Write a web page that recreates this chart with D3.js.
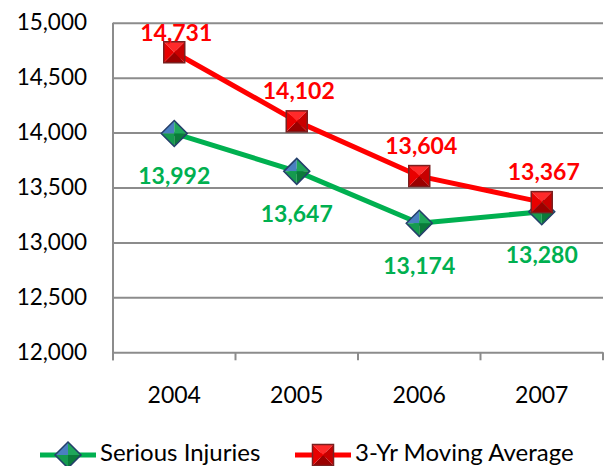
<!DOCTYPE html>
<html>
<head>
<meta charset="utf-8">
<script src="https://cdn.jsdelivr.net/npm/d3@7"></script>
<style>
  body { margin: 0; background: #fff; }
  svg { display: block; font-family: Lato, "Open Sans", sans-serif; }
</style>
</head>
<body>
<svg width="605" height="466"></svg>
<script>
const years = ['2004', '2005', '2006', '2007'];
const seriousInjuries = [13992, 13647, 13174, 13280];
const movingAverage = [14731, 14102, 13604, 13367];
const yTicks = [12000, 12500, 13000, 13500, 14000, 14500, 15000];

const svg = d3.select('svg');
const plotLeft = 113, plotRight = 603, plotTop = 22.7, plotBottom = 352.3;

const x = d3.scaleBand().domain(years).range([plotLeft, plotRight]);
const y = d3.scaleLinear().domain([12000, 15000]).range([plotBottom, plotTop]);
const fmt = d3.format(',');

// gridlines + y labels
const yAxis = svg.append('g')
    .attr('transform', `translate(${plotLeft},0)`)
    .call(d3.axisLeft(y).tickValues(yTicks).tickFormat(fmt)
        .tickSizeInner(-(plotRight - plotLeft)).tickSizeOuter(0).tickPadding(26));
yAxis.select('.domain').remove();
yAxis.selectAll('line').attr('stroke', '#8c8c8c').attr('stroke-width', 2);
yAxis.selectAll('text').attr('font-size', 22.5).attr('fill', '#000')
    .attr('font-family', 'Lato, sans-serif');

// left axis line
svg.append('line')
    .attr('x1', plotLeft).attr('x2', plotLeft).attr('y1', plotTop).attr('y2', plotBottom + 8)
    .attr('stroke', '#8c8c8c').attr('stroke-width', 2);

// x axis labels
const xAxis = svg.append('g')
    .attr('transform', `translate(0,${plotBottom})`)
    .call(d3.axisBottom(x).tickSize(0).tickPadding(34));
xAxis.select('.domain').remove();
xAxis.selectAll('text').attr('font-size', 23).attr('fill', '#000')
    .attr('font-family', 'Lato, sans-serif');

// category boundary ticks
const bounds = years.map(d => x(d)).concat([x(years[years.length - 1]) + x.bandwidth()]);
svg.selectAll('.xtick').data(bounds).enter().append('line')
    .attr('x1', d => d).attr('x2', d => d).attr('y1', plotBottom).attr('y2', plotBottom + 8)
    .attr('stroke', '#8c8c8c').attr('stroke-width', 2);

const cx = d => x(d) + x.bandwidth() / 2;

function drawDiamond(g, px, py, r) {
    const faces = [
        [[px, py - r], [px - r, py], [px, py]],
        [[px, py - r], [px + r, py], [px, py]],
        [[px - r, py], [px, py + r], [px, py]],
        [[px + r, py], [px, py + r], [px, py]]
    ];
    const fills = ['#4a7fc0', '#1fa65a', '#159a4e', '#0b7a3a'];
    faces.forEach((f, i) => g.append('path').attr('d', d3.line()(f) + 'Z').attr('fill', fills[i]));
    g.append('path')
        .attr('d', d3.line()([[px, py - r], [px + r, py], [px, py + r], [px - r, py]]) + 'Z')
        .attr('fill', 'none').attr('stroke', '#243f6b').attr('stroke-width', 1.5);
}

function drawSquare(g, px, py, r) {
    const a = [px - r, py - r], b = [px + r, py - r], c = [px + r, py + r], d = [px - r, py + r], m = [px, py];
    const faces = [[a, b, m], [b, c, m], [c, d, m], [d, a, m]];
    const fills = ['#ff2a2a', '#c80000', '#9a0000', '#e80000'];
    faces.forEach((f, i) => g.append('path').attr('d', d3.line()(f) + 'Z').attr('fill', fills[i]));
    g.append('rect').attr('x', px - r).attr('y', py - r).attr('width', 2 * r).attr('height', 2 * r)
        .attr('fill', 'none').attr('stroke', '#7a2020').attr('stroke-width', 1.5);
}

const line = d3.line().x(d => cx(d.year)).y(d => y(d.value));
const greenData = years.map((yr, i) => ({year: yr, value: seriousInjuries[i]}));
const redData = years.map((yr, i) => ({year: yr, value: movingAverage[i]}));

svg.append('path').datum(greenData).attr('d', line)
    .attr('fill', 'none').attr('stroke', '#00b050').attr('stroke-width', 5).attr('stroke-linejoin', 'round');
const gm = svg.append('g');
greenData.forEach(d => drawDiamond(gm, cx(d.year), y(d.value), 13));

svg.append('path').datum(redData).attr('d', line)
    .attr('fill', 'none').attr('stroke', '#ff0000').attr('stroke-width', 5).attr('stroke-linejoin', 'round');
const rm = svg.append('g');
redData.forEach(d => drawSquare(rm, cx(d.year), y(d.value), 10.5));

// data labels
svg.selectAll('.glabel').data(greenData).enter().append('text')
    .attr('x', d => cx(d.year)).attr('y', d => y(d.value) + 42)
    .attr('text-anchor', 'middle').attr('dominant-baseline', 'central')
    .attr('font-size', 23).attr('font-weight', 'bold').attr('fill', '#00b050')
    .text(d => fmt(d.value));

svg.selectAll('.rlabel').data(redData).enter().append('text')
    .attr('x', d => cx(d.year) + 2).attr('y', d => Math.max(y(d.value) - 31, 32))
    .attr('text-anchor', 'middle').attr('dominant-baseline', 'central')
    .attr('font-size', 23).attr('font-weight', 'bold').attr('fill', '#ff0000')
    .text(d => fmt(d.value));

// legend
const ly = 455;
const lg = svg.append('g');
lg.append('line').attr('x1', 40).attr('x2', 96).attr('y1', ly).attr('y2', ly)
    .attr('stroke', '#00b050').attr('stroke-width', 5);
drawDiamond(lg, 68, ly, 13);
lg.append('text').attr('x', 100).attr('y', 460.5)
    .attr('font-size', 24).text('Serious Injuries');
lg.append('line').attr('x1', 295).attr('x2', 351).attr('y1', ly).attr('y2', ly)
    .attr('stroke', '#ff0000').attr('stroke-width', 5);
drawSquare(lg, 323, ly, 10.5);
lg.append('text').attr('x', 355).attr('y', 460.5)
    .attr('font-size', 24).text('3-Yr Moving Average');
</script>
</body>
</html>
